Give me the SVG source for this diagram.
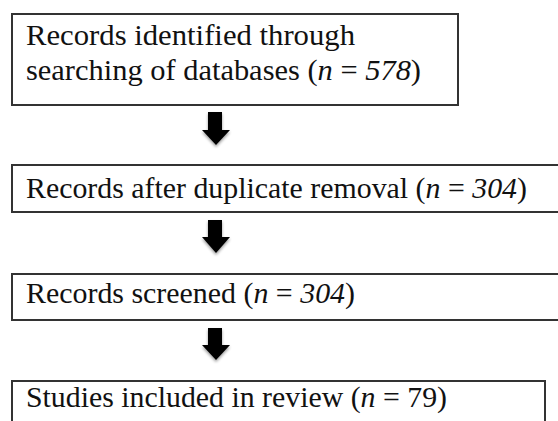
<svg xmlns="http://www.w3.org/2000/svg" width="558" height="421" viewBox="0 0 558 421">
<defs>
<style>
.box{fill:#fff;stroke:#333;stroke-width:2}
.t{font-family:"Liberation Serif","DejaVu Serif",serif;font-size:29px;fill:#111}
.i{font-style:italic}
.arr{fill:#000}
</style>
<filter id="sh" x="-50%" y="-50%" width="200%" height="200%">
<feGaussianBlur in="SourceAlpha" stdDeviation="1.5"/>
<feOffset dx="0" dy="2" result="b"/>
<feComponentTransfer><feFuncA type="linear" slope="0.4"/></feComponentTransfer>
<feMerge><feMergeNode/><feMergeNode in="SourceGraphic"/></feMerge>
</filter>
</defs>
<rect width="558" height="421" fill="#fff"/>
<g id="node1">
<rect class="box" x="12" y="14" width="446" height="91"/>
<text class="t" x="26" y="45" textLength="329" lengthAdjust="spacingAndGlyphs">Records identified through</text>
<text class="t" x="26" y="80" textLength="395" lengthAdjust="spacingAndGlyphs">searching of databases (<tspan class="i">n</tspan> = <tspan class="i">578</tspan>)</text>
</g>
<g id="node2">
<rect class="box" x="12" y="165" width="560" height="47"/>
<text class="t" x="26" y="198" textLength="501" lengthAdjust="spacingAndGlyphs">Records after duplicate removal (<tspan class="i">n</tspan> = <tspan class="i">304</tspan>)</text>
</g>
<g id="node3">
<rect class="box" x="12" y="274" width="560" height="46"/>
<text class="t" x="26" y="303" textLength="329" lengthAdjust="spacingAndGlyphs">Records screened (<tspan class="i">n</tspan> = <tspan class="i">304</tspan>)</text>
</g>
<g id="node4">
<rect class="box" x="12" y="381" width="533" height="60"/>
<text class="t" x="26" y="407" textLength="421" lengthAdjust="spacingAndGlyphs">Studies included in review (<tspan class="i">n</tspan> = 79)</text>
</g>
<g id="connectors" filter="url(#sh)">
<polygon class="arr" points="208,112 222,112 222,130 230,130 216,145 202,130 208,130"/>
<polygon class="arr" points="208,220 222,220 222,237 230,237 216,253 202,237 208,237"/>
<polygon class="arr" points="208,328 222,328 222,345 230,345 216,360 202,345 208,345"/>
</g>
</svg>
